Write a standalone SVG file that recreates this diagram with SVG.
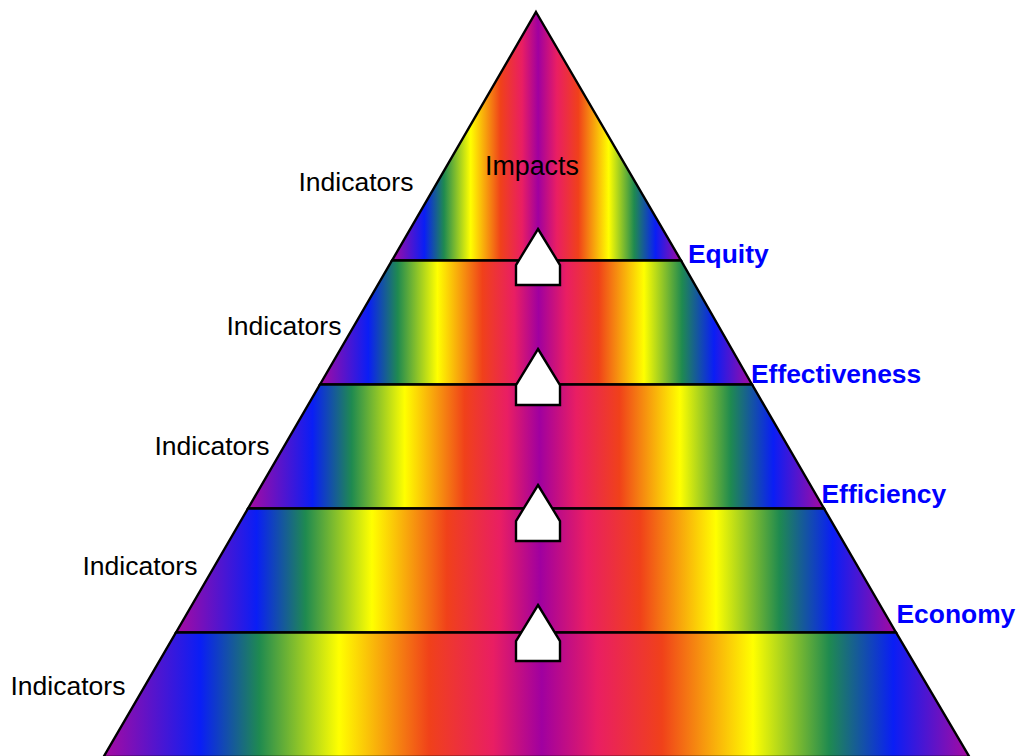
<svg xmlns="http://www.w3.org/2000/svg" width="1024" height="756" viewBox="0 0 1024 756">
<style>
.band{stroke:#000;stroke-width:2.4;fill:url(#rainbow)}
.house{fill:#fff;stroke:#000;stroke-width:2.4}
.ind{font:26.5px "Liberation Sans",Arial,sans-serif;fill:#000}
.lvl{font:bold 26.4px "Liberation Sans",Arial,sans-serif;fill:#0000ff}
</style>
<defs>
<linearGradient id="rainbow" x1="0" y1="0" x2="1" y2="0">
<stop offset="0" stop-color="#a80aa0"/>
<stop offset="0.112" stop-color="#0a1ef5"/>
<stop offset="0.18" stop-color="#1f8a50"/>
<stop offset="0.272" stop-color="#ffff00"/>
<stop offset="0.376" stop-color="#f0411a"/>
<stop offset="0.45" stop-color="#e91e63"/>
<stop offset="0.506" stop-color="#a000a0"/>
<stop offset="0.57" stop-color="#e91e63"/>
<stop offset="0.645" stop-color="#f0411a"/>
<stop offset="0.75" stop-color="#ffff00"/>
<stop offset="0.838" stop-color="#1f8a50"/>
<stop offset="0.912" stop-color="#0a1ef5"/>
<stop offset="1" stop-color="#a80aa0"/>
</linearGradient>
</defs>
<g id="level-impacts"><polygon class="band" points="536,12 681,260.5 392,260.5"/></g>
<g id="level-equity"><polygon class="band" points="392,260.5 681,260.5 752,384.5 320,384.5"/></g>
<g id="level-effectiveness"><polygon class="band" points="320,384.5 752,384.5 824,508.5 248,508.5"/></g>
<g id="level-efficiency"><polygon class="band" points="248,508.5 824,508.5 896,632.5 176,632.5"/></g>
<g id="level-economy"><polygon class="band" points="176,632.5 896,632.5 969.5,757 103.5,757"/></g>
<g id="connectors">
<polygon class="house" points="538,229 560,265 560,285 516,285 516,265"/>
<polygon class="house" points="538,349 560,385 560,405 516,405 516,385"/>
<polygon class="house" points="538,485 560,521 560,541 516,541 516,521"/>
<polygon class="house" points="538,605 560,641 560,661 516,661 516,641"/>
</g>
<text class="ind" x="485" y="175" style="font-size:26.8px">Impacts</text>
<text class="ind" x="298.5" y="191">Indicators</text>
<text class="ind" x="226.5" y="335">Indicators</text>
<text class="ind" x="154.5" y="455">Indicators</text>
<text class="ind" x="82.5" y="575">Indicators</text>
<text class="ind" x="10.5" y="695">Indicators</text>
<text class="lvl" x="688" y="263">Equity</text>
<text class="lvl" x="751" y="383">Effectiveness</text>
<text class="lvl" x="821.5" y="503">Efficiency</text>
<text class="lvl" x="896.5" y="623">Economy</text>
</svg>
